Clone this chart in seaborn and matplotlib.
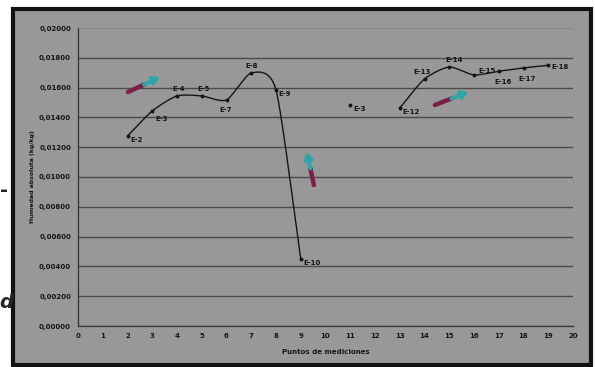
import numpy as np
import matplotlib
matplotlib.use("Agg")
import matplotlib.pyplot as plt
import seaborn as sns
import pandas as pd
from matplotlib.patches import Rectangle

# measurement points (x = punto de medicion, y = humedad absoluta kg/kg)
left_x = [2, 3, 4, 5, 6, 7, 8, 9]
left_y = [0.01275, 0.01443, 0.01544, 0.01544, 0.01517, 0.01698, 0.01584, 0.00450]
left_labels = ["E-2", "E-3", "E-4", "E-5", "E-7", "E-8", "E-9", "E-10"]

single_x = [11]
single_y = [0.01483]
single_labels = ["E-3"]

right_x = [13, 14, 15, 16, 17, 18, 19]
right_y = [0.01463, 0.01658, 0.01738, 0.01685, 0.01710, 0.01732, 0.01750]
right_labels = ["E-12", "E-13", "E-14", "E-15", "E-16", "E-17", "E-18"]

# where each label sits relative to its point (offset in points)
label_offsets = {
    "E-2": (2, -3), "E-3": (2, -6), "E-4": (-3, 5), "E-5": (-3, 5),
    "E-7": (-5, -7), "E-8": (-4, 5), "E-9": (2, -3), "E-10": (2, -3),
    "E-12": (2, -3), "E-13": (-8, 5), "E-14": (-3, 5), "E-15": (3, 3),
    "E-16": (-3, -8), "E-17": (-4, -8), "E-18": (2, -1),
}
single_offsets = [(2, -3)]

# decorative arrows (tail -> head), in data coords
arrows = [((2.02, 0.0157), (3.31, 0.01671)),
          ((9.53, 0.00946), (9.25, 0.01168)),
          ((14.42, 0.01483), (15.76, 0.0157))]

bg = "#989898"
ink = "#151515"


def smooth(xs, ys, n=24, k=0.7):
    # cardinal spline through the points, like excel's smoothed line
    xs = np.asarray(xs, float)
    ys = np.asarray(ys, float)
    px = np.concatenate([[2 * xs[0] - xs[1]], xs, [2 * xs[-1] - xs[-2]]])
    py = np.concatenate([[2 * ys[0] - ys[1]], ys, [2 * ys[-1] - ys[-2]]])
    outx, outy = [], []
    t = np.linspace(0, 1, n, endpoint=False)
    h00 = 2 * t ** 3 - 3 * t ** 2 + 1
    h10 = t ** 3 - 2 * t ** 2 + t
    h01 = -2 * t ** 3 + 3 * t ** 2
    h11 = t ** 3 - t ** 2
    for i in range(1, len(px) - 2):
        for arr, out in ((px, outx), (py, outy)):
            m1 = k * 0.5 * (arr[i + 1] - arr[i - 1])
            m2 = k * 0.5 * (arr[i + 2] - arr[i])
            out.extend(h00 * arr[i] + h10 * m1 + h01 * arr[i + 1] + h11 * m2)
    outx.append(xs[-1])
    outy.append(ys[-1])
    return outx, outy


sns.set_style("white")
plt.rcParams["font.family"] = ["DejaVu Sans"]

fig = plt.figure(figsize=(5.95, 3.67), dpi=100)
fig.patch.set_facecolor("white")
# gray panel with black frame
fig.patches.append(Rectangle((13 / 595, 2 / 367), 578 / 595, 356 / 367,
                             transform=fig.transFigure, facecolor=bg,
                             edgecolor="#111111", linewidth=3, zorder=-10))
fig.text(0.0, 1 - 190 / 367, "-", fontsize=14, fontweight="bold", va="center", ha="left")
fig.text(-0.002, 1 - 302 / 367, "d", fontsize=14, fontweight="bold", style="italic",
         va="center", ha="left")

ax = fig.add_axes([78 / 595, 1 - 326 / 367, 495 / 595, 298 / 367])
ax.set_zorder(2)
ax.set_facecolor(bg)

for xs, ys in ((left_x, left_y), (right_x, right_y)):
    sx, sy = smooth(xs, ys)
    sns.lineplot(x=sx, y=sy, ax=ax, color=ink, linewidth=1.0, sort=False,
                 estimator=None, zorder=3)

pts = pd.DataFrame({"x": left_x + single_x + right_x,
                    "y": left_y + single_y + right_y})
sns.scatterplot(data=pts, x="x", y="y", ax=ax, color=ink, s=8, edgecolor=ink,
                linewidth=0, zorder=4)

for xs, ys, labs in ((left_x, left_y, left_labels), (right_x, right_y, right_labels)):
    for x, y, lab in zip(xs, ys, labs):
        ax.annotate(lab, (x, y), xytext=label_offsets[lab], textcoords="offset points",
                    fontsize=5, fontweight="bold", color=ink, va="center", ha="left")
for x, y, lab, off in zip(single_x, single_y, single_labels, single_offsets):
    ax.annotate(lab, (x, y), xytext=off, textcoords="offset points",
                fontsize=5, fontweight="bold", color=ink, va="center", ha="left")

for (x0, y0), (x1, y1) in arrows:
    xm, ym = x0 + 0.5 * (x1 - x0), y0 + 0.5 * (y1 - y0)
    ax.plot([x0, xm], [y0, ym], color="#7a1f45", linewidth=3.2, solid_capstyle="round", zorder=5)
    ax.annotate("", xy=(x1, y1), xytext=(xm, ym),
                arrowprops=dict(arrowstyle="-|>,head_length=0.35,head_width=0.22",
                                color="#2aa6a8", lw=2.8, shrinkA=0, shrinkB=0),
                zorder=6)

ax.set_xlim(0, 20)
ax.set_ylim(0, 0.02)
ax.set_xticks(range(0, 21))
yticks = np.arange(0, 0.0201, 0.002)
ax.set_yticks(yticks)
ax.set_yticklabels([f"{v:.5f}".replace(".", ",") for v in yticks])
ax.tick_params(axis="both", labelsize=5, colors=ink, length=2, width=0.6, pad=3)
for lab in ax.get_xticklabels() + ax.get_yticklabels():
    lab.set_fontweight("bold")
ax.grid(axis="y", color="#4a4a4a", linewidth=1.0)
ax.get_ygridlines()[-1].set_color("#8a8a8a")
ax.set_axisbelow(True)
for side in ("top", "right"):
    ax.spines[side].set_visible(False)
for side in ("left", "bottom"):
    ax.spines[side].set_color("#333333")
    ax.spines[side].set_linewidth(0.9)

ax.set_xlabel("Puntos de mediciones", fontsize=5, fontweight="bold", color=ink, labelpad=7)
ax.set_ylabel("Humedad absoluta (kg/kg)", fontsize=4.5, fontweight="bold", color=ink, labelpad=3)

fig.savefig("out.png", dpi=100, facecolor=fig.get_facecolor())
